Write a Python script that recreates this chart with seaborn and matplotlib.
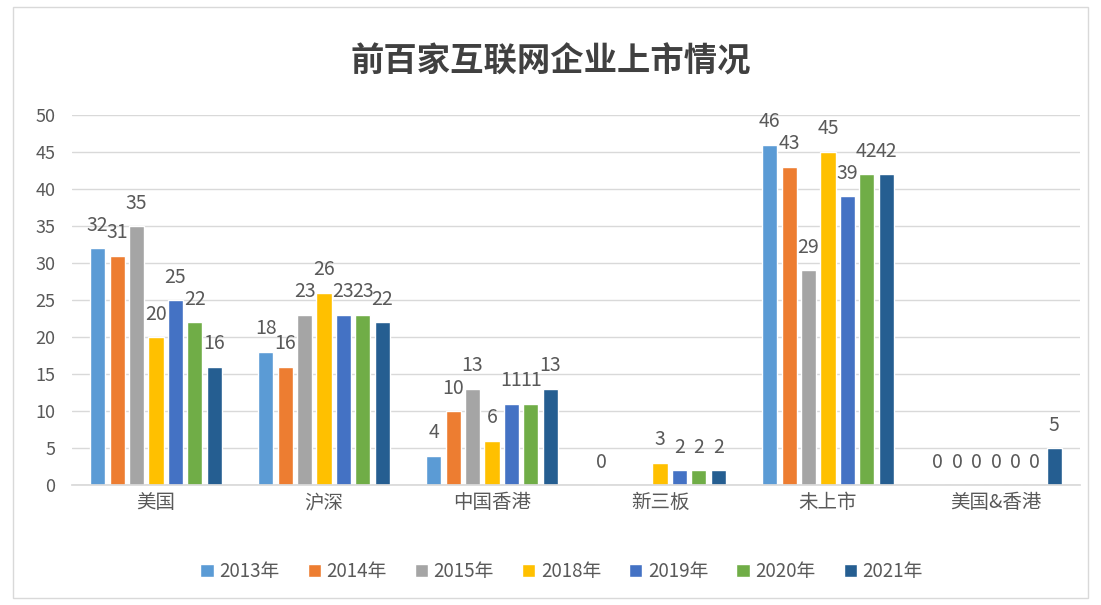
import numpy as np
import pandas as pd
import matplotlib
matplotlib.use("Agg")
import matplotlib.pyplot as plt
import seaborn as sns

categories = ["美国", "沪深", "中国香港", "新三板", "未上市", "美国&香港"]
years = ["2013年", "2014年", "2015年", "2018年", "2019年", "2020年", "2021年"]
v2013 = [32, 18, 4, 0, 46, 0]
v2014 = [31, 16, 10, np.nan, 43, 0]
v2015 = [35, 23, 13, np.nan, 29, 0]
v2018 = [20, 26, 6, 3, 45, 0]
v2019 = [25, 23, 11, 2, 39, 0]
v2020 = [22, 23, 11, 2, 42, 0]
v2021 = [16, 22, 13, 2, 42, 5]
colors = ["#5B9BD5", "#ED7D31", "#A5A5A5", "#FFC000", "#4472C4", "#70AD47", "#255E91"]

series = [v2013, v2014, v2015, v2018, v2019, v2020, v2021]
rows = []
for y, vals in zip(years, series):
    for c, v in zip(categories, vals):
        rows.append({"类别": c, "年份": y, "数量": v})
df = pd.DataFrame(rows)

sns.set_theme(style="white")
plt.rcParams['font.family'] = ['Noto Sans CJK SC', 'DejaVu Sans']

fig = plt.figure(figsize=(11.01, 6.05), dpi=100)
ax = fig.add_axes([0.0654, 0.198, 0.9155, 0.612])

sns.barplot(data=df, x="类别", y="数量", hue="年份", order=categories,
            hue_order=years, palette=colors, width=0.81, errorbar=None,
            ax=ax, saturation=1, legend=True)

# shrink bars slightly to create gaps
for cont in ax.containers:
    for p in cont.patches:
        w = p.get_width()
        nw = w * 0.78
        p.set_x(p.get_x() + (w - nw) / 2)
        p.set_width(nw)

for cont, vals in zip(ax.containers, series):
    labels = []
    for p in cont.patches:
        h = p.get_height()
        labels.append("" if (h is None or np.isnan(h)) else f"{h:.0f}")
    ax.bar_label(cont, labels=labels, padding=9, fontsize=14, color="#595959")

ax.set_ylim(0, 50)
ax.set_yticks(range(0, 51, 5))
ax.set_xlim(-0.5, 5.5)
ax.yaxis.grid(True, color="#D9D9D9", linewidth=1)
ax.set_axisbelow(True)
for s in ["top", "right", "left"]:
    ax.spines[s].set_visible(False)
ax.spines["bottom"].set_color("#D9D9D9")
ax.tick_params(axis="y", labelsize=13, colors="#595959", length=0, pad=12)
ax.tick_params(axis="x", labelsize=14, colors="#595959", length=0, pad=5)
ax.set_xlabel("")
ax.set_ylabel("")

fig.suptitle("前百家互联网企业上市情况", y=0.925, fontsize=24, color="#404040",
             fontweight="bold")

h, l = ax.get_legend_handles_labels()
ax.legend_.remove()
fig.legend(h, l, loc="center", bbox_to_anchor=(0.51, 0.055), ncol=7, frameon=False,
           fontsize=13.5, handlelength=0.7, handleheight=0.7, handletextpad=0.3,
           columnspacing=1.5, labelcolor="#595959")

fig.patches.append(plt.Rectangle((0.012, 0.012), 0.976, 0.976, transform=fig.transFigure,
                                 fill=False, edgecolor="#D9D9D9", linewidth=1))

fig.savefig("out.png", dpi=100)
